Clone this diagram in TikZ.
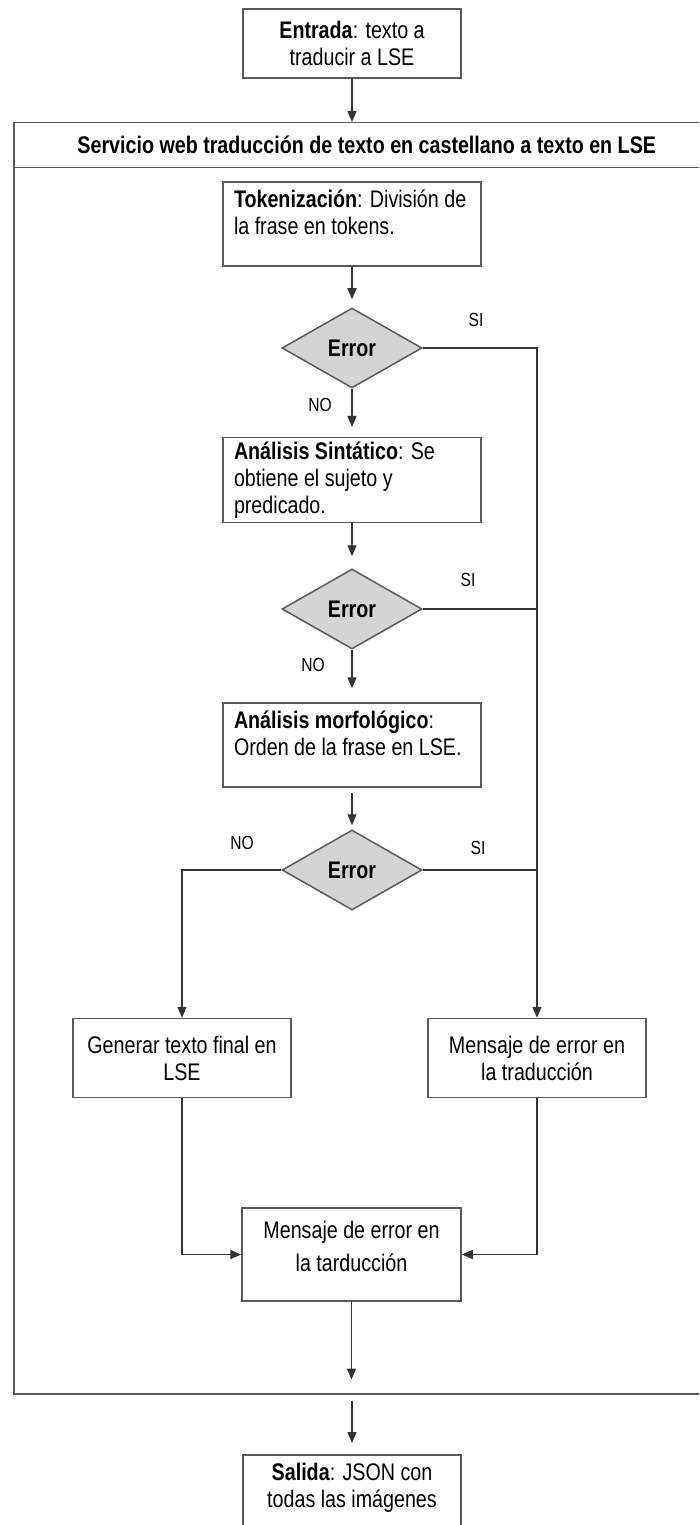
\documentclass[tikz,border=0pt]{standalone}
\usepackage{fontspec}
\setmainfont{Liberation Sans}[FakeStretch=0.82]
\usetikzlibrary{shapes.geometric,arrows.meta}
\begin{document}
\begin{tikzpicture}[x=1pt,y=-1pt,
    >={Triangle[width=9pt,length=11pt]},
    every node/.style={font=\fontsize{24}{27}\selectfont},
    container/.style={draw=black!65,line width=1.5pt,minimum width=706pt,anchor=north west},
    stepbox/.style={draw=black!65,line width=1.5pt,fill=white,minimum width=218pt,minimum height=69pt,align=center,inner sep=0pt},
    textbox/.style={draw=black!65,line width=1.5pt,fill=white,text width=236pt,inner xsep=11pt,inner ysep=4pt,align=flush left,minimum height=84pt},
    errorbox/.style={diamond,draw=black!65,line width=1.5pt,fill=black!17,aspect=1.75,minimum width=140pt,minimum height=80pt,inner sep=0pt,font=\fontsize{24}{27}\selectfont\bfseries},
    answer/.style={font=\fontsize{19}{22}\selectfont},
    link/.style={draw=black!80,line width=1.3pt}]
  \useasboundingbox (0,0) rectangle (699,1525);
  \clip (0,0) rectangle (699,1525);
  \node[container,minimum height=1271pt] (web) at (13,122) {};
  \node[container,minimum height=45pt,font=\fontsize{24}{27}\selectfont\bfseries] (webtitle) at (13,122)
    {Servicio web traducción de texto en castellano a texto en LSE};
  \node[stepbox] (entrada) at (352,43.5) {\textbf{Entrada}: texto a\\traducir a LSE};
  \node[textbox] (tok) at (352,224) {\textbf{Tokenización}: División de\\la frase en tokens.\\[-12pt]\strut};
  \node[errorbox] (d1) at (352,348) {Error};
  \node[textbox] (sint) at (352,480) {\textbf{Análisis Sintático}: Se\\obtiene el sujeto y\\predicado.};
  \node[errorbox] (d2) at (352,609) {Error};
  \node[textbox] (morf) at (352,745) {\textbf{Análisis morfológico}:\\Orden de la frase en LSE.\\[-12pt]\strut};
  \node[errorbox] (d3) at (352,870) {Error};
  \node[stepbox,minimum height=79pt] (gen) at (182,1058) {Generar texto final en\\LSE};
  \node[stepbox,minimum height=79pt] (msg) at (537,1058) {Mensaje de error en\\la traducción};
  \node[stepbox,minimum width=219pt,minimum height=93pt] (final) at (351.5,1254.5) {Mensaje de error en\\[6pt]la tarducción\\[-19pt]\strut};
  \node[stepbox,minimum height=84pt,anchor=north] (salida) at (352,1454) {\textbf{Salida}: JSON con\\todas las imágenes\\[-12pt]\strut};
  \node[answer] (si1) at (476,320) {SI};
  \node[answer] (no1) at (320,405) {NO};
  \node[answer] (si2) at (468,580) {SI};
  \node[answer] (no2) at (313,665) {NO};
  \node[answer] (si3) at (478,848) {SI};
  \node[answer] (no3) at (242,843) {NO};
  \begin{scope}[link]
    \draw[->] (entrada) -- (entrada |- web.north);
    \draw[->,shorten >=8pt] (tok) -- (d1);
    \draw[->,shorten >=10pt] (d1) -- (sint);
    \draw[->,shorten >=12pt] (sint) -- (d2);
    \draw[->,shorten >=14pt] (d2) -- (morf);
    \draw[->,shorten <=5pt,shorten >=4pt] (morf) -- (d3);
    \draw[->] (d1.east) -| (msg.north);
    \draw (d2.east) -- (d2.east -| msg.north);
    \draw (d3.east) -- (d3.east -| msg.north);
    \draw[->] (d3.west) -| (gen.north);
    \draw[->] (gen.south) |- (final.west);
    \draw[->] (msg.south) |- (final.east);
    \draw[->,shorten >=15pt] (final) -- (final |- web.south);
    \draw[->,shorten <=6pt,shorten >=11pt] (salida |- web.south) -- (salida);
  \end{scope}
\end{tikzpicture}
\end{document}
